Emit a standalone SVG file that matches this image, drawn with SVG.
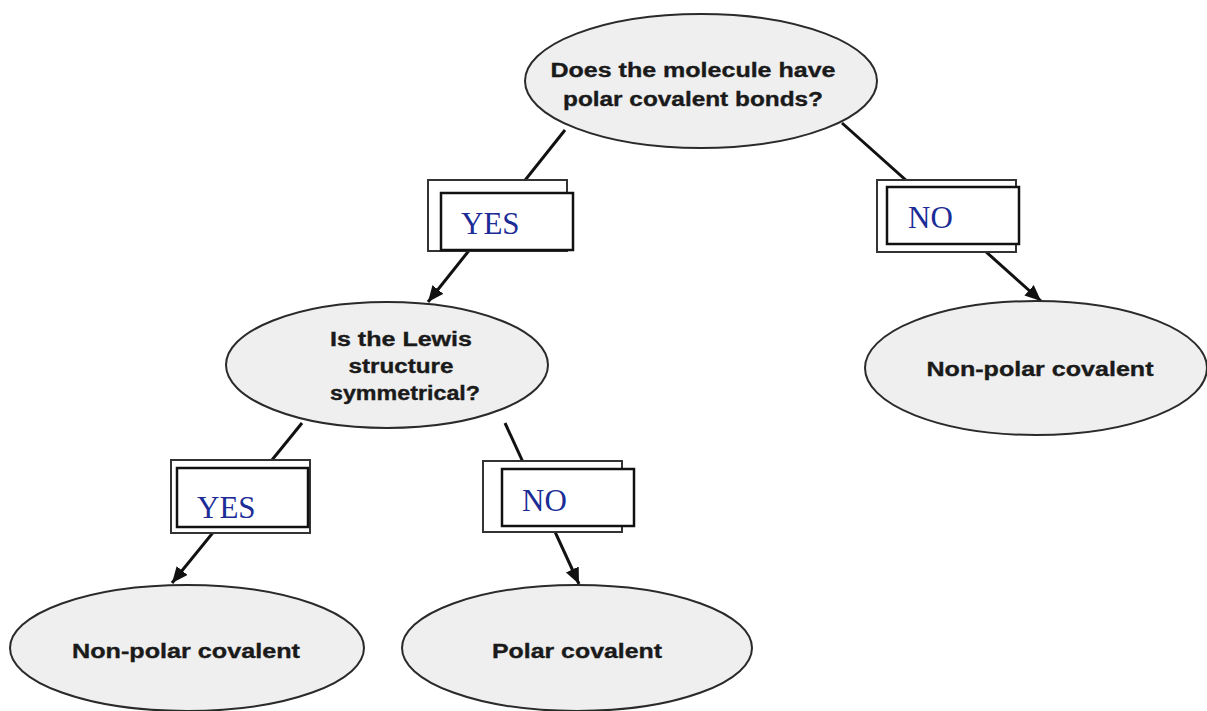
<svg xmlns="http://www.w3.org/2000/svg" width="1207" height="711" viewBox="0 0 1207 711">
  <defs>
    <marker id="arrow" markerUnits="userSpaceOnUse" markerWidth="18" markerHeight="16" refX="16" refY="7" orient="auto">
      <path d="M0,0 L16,7 L0,14 Z" fill="#111"/>
    </marker>
  </defs>
  <style>
    .edge { stroke: #111; stroke-width: 3; fill: none; marker-end: url(#arrow); }
    .node ellipse { fill: #efefef; stroke: #2a2a2a; stroke-width: 2; }
    .node text { font-family: "Liberation Sans", Arial, sans-serif; font-weight: bold; font-size: 20px; fill: #1a1a1a; stroke: #1a1a1a; stroke-width: 0.35; text-anchor: middle; }
    .tag .back { fill: #fff; stroke: #333; stroke-width: 2; }
    .tag .front { fill: #fff; stroke: #111; stroke-width: 2.5; }
    .tag text { font-family: "Liberation Serif", "Times New Roman", serif; font-size: 31px; fill: #1c2c96; }
  </style>
  <rect width="1207" height="711" fill="#fff"/>

  <!-- connectors -->
  <g id="connectors">
    <line class="edge" x1="565" y1="130" x2="428" y2="302"/>
    <line class="edge" x1="842" y1="123" x2="1041" y2="301"/>
    <line class="edge" x1="302" y1="423" x2="172" y2="583"/>
    <line class="edge" x1="505" y1="423" x2="579" y2="584"/>
  </g>

  <!-- edge labels -->
  <g id="label-yes-top" class="tag">
    <rect class="back" x="428" y="180" width="139" height="71"/>
    <rect class="front" x="441" y="193" width="132" height="57"/>
    <text x="461" y="234">YES</text>
  </g>
  <g id="label-no-top" class="tag">
    <rect class="back" x="877" y="180" width="139" height="72"/>
    <rect class="front" x="887" y="187" width="132" height="57"/>
    <text x="908" y="228">NO</text>
  </g>
  <g id="label-yes-bottom" class="tag">
    <rect class="back" x="171" y="460" width="139" height="73"/>
    <rect class="front" x="177" y="468" width="131" height="59"/>
    <text x="197" y="518">YES</text>
  </g>
  <g id="label-no-bottom" class="tag">
    <rect class="back" x="483" y="461" width="139" height="71"/>
    <rect class="front" x="502" y="469" width="132" height="57"/>
    <text x="522" y="511">NO</text>
  </g>

  <!-- nodes -->
  <g id="q-polar-bonds" class="node">
    <ellipse cx="701" cy="81" rx="176" ry="67"/>
    <text x="693" y="77" textLength="285" lengthAdjust="spacingAndGlyphs">Does the molecule have</text>
    <text x="693" y="106" textLength="260" lengthAdjust="spacingAndGlyphs">polar covalent bonds?</text>
  </g>
  <g id="q-symmetrical" class="node">
    <ellipse cx="387" cy="365" rx="161" ry="63"/>
    <text x="401" y="346" textLength="142" lengthAdjust="spacingAndGlyphs">Is the Lewis</text>
    <text x="401" y="373" textLength="105" lengthAdjust="spacingAndGlyphs">structure</text>
    <text x="405" y="400" textLength="150" lengthAdjust="spacingAndGlyphs">symmetrical?</text>
  </g>
  <g id="r-nonpolar-right" class="node">
    <ellipse cx="1036" cy="368" rx="171" ry="67"/>
    <text x="1040" y="376" textLength="227" lengthAdjust="spacingAndGlyphs">Non-polar covalent</text>
  </g>
  <g id="r-nonpolar-left" class="node">
    <ellipse cx="187" cy="648" rx="177" ry="63"/>
    <text x="186" y="658" textLength="228" lengthAdjust="spacingAndGlyphs">Non-polar covalent</text>
  </g>
  <g id="r-polar" class="node">
    <ellipse cx="577" cy="648" rx="175" ry="63"/>
    <text x="577" y="658" textLength="170" lengthAdjust="spacingAndGlyphs">Polar covalent</text>
  </g>
</svg>
